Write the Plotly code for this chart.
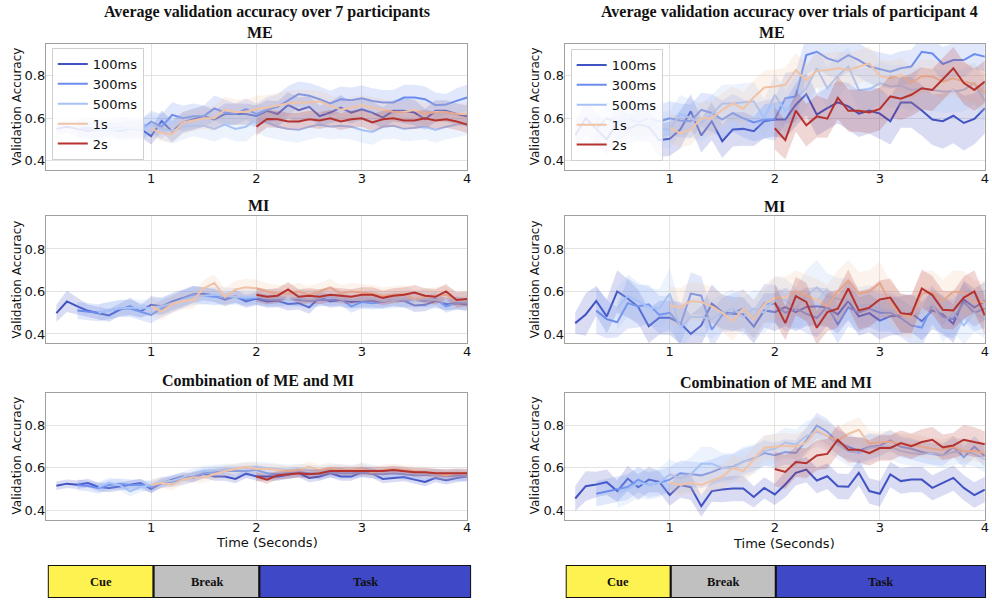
import plotly.graph_objects as go

# Shared time grid (seconds) – each window series ends at 4.0 s
TIME = [0.1, 0.2, 0.3, 0.4, 0.5, 0.6, 0.7, 0.8, 0.9,
        1.0, 1.1, 1.2, 1.3, 1.4, 1.5, 1.6, 1.7, 1.8, 1.9,
        2.0, 2.1, 2.2, 2.3, 2.4, 2.5, 2.6, 2.7, 2.8, 2.9,
        3.0, 3.1, 3.2, 3.3, 3.4, 3.5, 3.6, 3.7, 3.8, 3.9,
        4.0]

WINDOWS = ["100ms", "300ms", "500ms", "1s", "2s"]
COLORS = ["#4152c3", "#6b8cee", "#a7c2f6", "#f0c2a6", "#b5322e"]

# ---------------- Average over 7 participants: ME ----------------
ME_AVG_100 = [0.55, 0.56, 0.55, 0.54, 0.55, 0.55, 0.54, 0.55, 0.55,
              0.516, 0.587, 0.537, 0.58, 0.595, 0.61, 0.595, 0.62, 0.62, 0.62,
              0.61, 0.635, 0.62, 0.663, 0.638, 0.654, 0.61, 0.627, 0.65, 0.627,
              0.643, 0.627, 0.603, 0.635, 0.635, 0.627, 0.595, 0.635, 0.635, 0.62,
              0.61]
ME_AVG_100_SD = [0.03, 0.03, 0.04, 0.04, 0.04, 0.03, 0.04, 0.04, 0.04,
                 0.04, 0.05, 0.05, 0.05, 0.05, 0.05, 0.04, 0.05, 0.05, 0.05,
                 0.05, 0.05, 0.06, 0.06, 0.06, 0.05, 0.05, 0.05, 0.06, 0.05,
                 0.05, 0.05, 0.05, 0.05, 0.06, 0.06, 0.05, 0.05, 0.05, 0.05,
                 0.05]
ME_AVG_300 = [0.55, 0.555, 0.545, 0.55, 0.555, 0.55, 0.545,
              0.584, 0.56, 0.616, 0.60, 0.61, 0.61, 0.647, 0.627, 0.62, 0.643,
              0.62, 0.64, 0.654, 0.682, 0.714, 0.706, 0.69, 0.67, 0.69, 0.685,
              0.695, 0.682, 0.674, 0.674, 0.698, 0.698, 0.69, 0.662, 0.665, 0.682,
              0.698]
ME_AVG_300_SD = [0.04, 0.05, 0.05, 0.04, 0.05, 0.05, 0.05,
                 0.05, 0.06, 0.06, 0.06, 0.06, 0.05, 0.06, 0.06, 0.05, 0.05,
                 0.05, 0.06, 0.06, 0.07, 0.06, 0.06, 0.06, 0.06, 0.06, 0.06,
                 0.06, 0.06, 0.06, 0.06, 0.06, 0.06, 0.06, 0.06, 0.05, 0.06,
                 0.06]
ME_AVG_500 = [0.55, 0.545, 0.55, 0.555, 0.55,
              0.57, 0.55, 0.54, 0.56, 0.565, 0.565, 0.55, 0.57, 0.55, 0.56,
              0.60, 0.58, 0.56, 0.55, 0.545, 0.56, 0.57, 0.56, 0.565, 0.56,
              0.545, 0.535, 0.56, 0.565, 0.55, 0.555, 0.56, 0.545, 0.56, 0.57,
              0.58]
ME_AVG_500_SD = [0.05, 0.05, 0.06, 0.05, 0.05,
                 0.05, 0.05, 0.06, 0.06, 0.05, 0.06, 0.06, 0.06, 0.06, 0.07,
                 0.07, 0.07, 0.06, 0.06, 0.06, 0.06, 0.06, 0.06, 0.06, 0.06,
                 0.06, 0.06, 0.06, 0.06, 0.06, 0.06, 0.06, 0.06, 0.06, 0.06,
                 0.06]
ME_AVG_1S = [0.55, 0.53, 0.525, 0.58, 0.59, 0.60, 0.60, 0.64, 0.63, 0.63,
             0.645, 0.65, 0.66, 0.67, 0.675, 0.675, 0.68, 0.66, 0.64, 0.65,
             0.66, 0.65, 0.64, 0.63, 0.63, 0.64, 0.62, 0.63, 0.63, 0.62,
             0.62]
ME_AVG_1S_SD = [0.04, 0.04, 0.04, 0.05, 0.05, 0.05, 0.06, 0.06, 0.06, 0.06,
                0.06, 0.06, 0.06, 0.06, 0.06, 0.06, 0.05, 0.05, 0.05, 0.05,
                0.05, 0.05, 0.05, 0.05, 0.05, 0.05, 0.05, 0.05, 0.05, 0.05,
                0.05]
ME_AVG_2S = [0.56, 0.597, 0.595, 0.585, 0.585, 0.595, 0.59, 0.60, 0.585, 0.595,
             0.60, 0.58, 0.595, 0.60, 0.59, 0.59, 0.60, 0.59, 0.595, 0.585,
             0.57]
ME_AVG_2S_SD = [0.04, 0.04, 0.04, 0.04, 0.04, 0.04, 0.04, 0.04, 0.04, 0.04,
                0.04, 0.04, 0.04, 0.04, 0.04, 0.04, 0.04, 0.04, 0.04, 0.04,
                0.04]

# ---------------- Average over 7 participants: MI ----------------
MI_AVG_100 = [0.498, 0.553, 0.53, 0.509, 0.498, 0.487, 0.514, 0.53, 0.506,
              0.537, 0.53, 0.553, 0.569, 0.587, 0.589, 0.581, 0.561, 0.577, 0.553,
              0.566, 0.553, 0.556, 0.541, 0.545, 0.525, 0.572, 0.553, 0.561, 0.55,
              0.556, 0.556, 0.553, 0.561, 0.556, 0.534, 0.537, 0.556, 0.541, 0.545,
              0.537]
MI_AVG_100_SD = [0.04, 0.05, 0.04, 0.03, 0.03, 0.03, 0.03, 0.04, 0.03,
                 0.04, 0.04, 0.04, 0.04, 0.04, 0.03, 0.03, 0.03, 0.03, 0.03,
                 0.03, 0.03, 0.03, 0.03, 0.03, 0.03, 0.03, 0.03, 0.03, 0.03,
                 0.03, 0.03, 0.03, 0.03, 0.03, 0.03, 0.03, 0.03, 0.03, 0.03,
                 0.03]
MI_AVG_300 = [0.51, 0.505, 0.50, 0.51, 0.52, 0.52, 0.505,
              0.49, 0.52, 0.54, 0.565, 0.585, 0.58, 0.575, 0.57, 0.575, 0.565,
              0.57, 0.56, 0.56, 0.565, 0.56, 0.555, 0.56, 0.56, 0.565, 0.53,
              0.55, 0.545, 0.55, 0.56, 0.555, 0.56, 0.555, 0.565, 0.53, 0.545,
              0.545]
MI_AVG_300_SD = [0.04, 0.04, 0.04, 0.04, 0.04, 0.04, 0.04,
                 0.04, 0.04, 0.04, 0.04, 0.04, 0.04, 0.04, 0.03, 0.03, 0.03,
                 0.03, 0.03, 0.03, 0.03, 0.03, 0.03, 0.03, 0.03, 0.03, 0.03,
                 0.03, 0.03, 0.03, 0.03, 0.03, 0.03, 0.03, 0.03, 0.03, 0.03,
                 0.03]
MI_AVG_500 = [0.50, 0.51, 0.52, 0.525, 0.52,
              0.525, 0.53, 0.545, 0.56, 0.575, 0.58, 0.585, 0.58, 0.575, 0.57,
              0.575, 0.57, 0.57, 0.565, 0.57, 0.565, 0.57, 0.575, 0.565, 0.56,
              0.56, 0.565, 0.555, 0.56, 0.565, 0.56, 0.565, 0.56, 0.555, 0.56,
              0.555]
MI_AVG_500_SD = [0.04, 0.04, 0.04, 0.04, 0.04,
                 0.04, 0.04, 0.04, 0.04, 0.04, 0.04, 0.04, 0.04, 0.04, 0.04,
                 0.04, 0.04, 0.04, 0.04, 0.04, 0.04, 0.04, 0.04, 0.04, 0.04,
                 0.04, 0.04, 0.04, 0.04, 0.04, 0.04, 0.04, 0.04, 0.04, 0.04,
                 0.04]
MI_AVG_1S = [0.53, 0.505, 0.54, 0.555, 0.56, 0.615, 0.64, 0.575, 0.61, 0.62,
             0.615, 0.60, 0.59, 0.59, 0.60, 0.585, 0.60, 0.62, 0.59, 0.60,
             0.595, 0.59, 0.58, 0.585, 0.59, 0.565, 0.575, 0.58, 0.585, 0.56,
             0.565]
MI_AVG_1S_SD = [0.04, 0.04, 0.04, 0.04, 0.04, 0.04, 0.04, 0.04, 0.04, 0.04,
                0.04, 0.04, 0.04, 0.04, 0.04, 0.04, 0.04, 0.04, 0.04, 0.04,
                0.04, 0.04, 0.04, 0.04, 0.04, 0.04, 0.04, 0.04, 0.04, 0.04,
                0.04]
MI_AVG_2S = [0.585, 0.575, 0.58, 0.61, 0.575, 0.58, 0.575, 0.585, 0.58, 0.575,
             0.585, 0.585, 0.57, 0.58, 0.585, 0.595, 0.58, 0.575, 0.60, 0.56,
             0.565]
MI_AVG_2S_SD = [0.035, 0.035, 0.035, 0.035, 0.035, 0.035, 0.035, 0.035, 0.035, 0.035,
                0.035, 0.035, 0.035, 0.035, 0.035, 0.035, 0.035, 0.035, 0.035, 0.035,
                0.035]

# ---------------- Average over 7 participants: ME + MI ----------------
CB_AVG_100 = [0.516, 0.526, 0.521, 0.529, 0.51, 0.505, 0.513, 0.521, 0.529,
              0.50, 0.529, 0.545, 0.56, 0.553, 0.573, 0.56, 0.56, 0.548, 0.573,
              0.56, 0.56, 0.56, 0.568, 0.576, 0.553, 0.56, 0.576, 0.56, 0.56,
              0.579, 0.573, 0.548, 0.553, 0.557, 0.545, 0.534, 0.553, 0.542, 0.553,
              0.56]
CB_AVG_100_SD = [0.02, 0.02, 0.02, 0.02, 0.02, 0.02, 0.02, 0.02, 0.02,
                 0.02, 0.02, 0.02, 0.02, 0.02, 0.02, 0.02, 0.02, 0.02, 0.02,
                 0.02, 0.02, 0.02, 0.02, 0.02, 0.02, 0.02, 0.02, 0.02, 0.02,
                 0.02, 0.02, 0.02, 0.02, 0.02, 0.02, 0.02, 0.02, 0.02, 0.02,
                 0.02]
CB_AVG_300 = [0.52, 0.515, 0.505, 0.52, 0.525, 0.52, 0.52,
              0.51, 0.53, 0.535, 0.545, 0.56, 0.575, 0.58, 0.585, 0.585, 0.585,
              0.59, 0.575, 0.57, 0.575, 0.58, 0.575, 0.57, 0.58, 0.575, 0.575,
              0.58, 0.575, 0.57, 0.575, 0.57, 0.565, 0.565, 0.57, 0.56, 0.565,
              0.56]
CB_AVG_300_SD = [0.025, 0.025, 0.025, 0.025, 0.025, 0.025, 0.025,
                 0.025, 0.025, 0.025, 0.025, 0.025, 0.025, 0.025, 0.025, 0.025, 0.025,
                 0.025, 0.025, 0.025, 0.025, 0.025, 0.025, 0.025, 0.025, 0.025, 0.025,
                 0.025, 0.025, 0.025, 0.025, 0.025, 0.025, 0.025, 0.025, 0.025, 0.025,
                 0.025]
CB_AVG_500 = [0.51, 0.53, 0.52, 0.49, 0.51,
              0.52, 0.535, 0.54, 0.555, 0.575, 0.585, 0.59, 0.595, 0.595, 0.60,
              0.605, 0.60, 0.595, 0.59, 0.595, 0.59, 0.585, 0.59, 0.595, 0.585,
              0.60, 0.59, 0.58, 0.585, 0.58, 0.575, 0.575, 0.57, 0.57, 0.575,
              0.57]
CB_AVG_500_SD = [0.025, 0.025, 0.025, 0.025, 0.025,
                 0.025, 0.025, 0.025, 0.025, 0.025, 0.025, 0.025, 0.025, 0.025, 0.025,
                 0.025, 0.025, 0.025, 0.025, 0.025, 0.025, 0.025, 0.025, 0.025, 0.025,
                 0.025, 0.025, 0.025, 0.025, 0.025, 0.025, 0.025, 0.025, 0.025, 0.025,
                 0.025]
CB_AVG_1S = [0.52, 0.53, 0.52, 0.545, 0.555, 0.555, 0.57, 0.585, 0.595, 0.605,
             0.595, 0.595, 0.59, 0.585, 0.59, 0.605, 0.59, 0.60, 0.59, 0.59,
             0.595, 0.58, 0.59, 0.595, 0.59, 0.585, 0.58, 0.575, 0.565, 0.575,
             0.575]
CB_AVG_1S_SD = [0.025, 0.025, 0.025, 0.025, 0.025, 0.025, 0.025, 0.025, 0.025, 0.025,
                0.025, 0.025, 0.025, 0.025, 0.025, 0.025, 0.025, 0.025, 0.025, 0.025,
                0.025, 0.025, 0.025, 0.025, 0.025, 0.025, 0.025, 0.025, 0.025, 0.025,
                0.025]
CB_AVG_2S = [0.56, 0.545, 0.565, 0.57, 0.575, 0.57, 0.575, 0.585, 0.585, 0.585,
             0.585, 0.585, 0.585, 0.59, 0.585, 0.58, 0.58, 0.575, 0.575, 0.575,
             0.575]
CB_AVG_2S_SD = [0.02, 0.02, 0.02, 0.02, 0.02, 0.02, 0.02, 0.02, 0.02, 0.02,
                0.02, 0.02, 0.02, 0.02, 0.02, 0.02, 0.02, 0.02, 0.02, 0.02,
                0.02]

# ---------------- Participant 4 trials: ME ----------------
P4_ME_100 = [0.52, 0.60, 0.55, 0.50, 0.58, 0.55, 0.57, 0.56, 0.497,
             0.503, 0.547, 0.633, 0.519, 0.586, 0.492, 0.547, 0.55, 0.539, 0.586,
             0.594, 0.594, 0.664, 0.714, 0.617, 0.648, 0.675, 0.656, 0.622, 0.637,
             0.622, 0.586, 0.675, 0.675, 0.637, 0.594, 0.586, 0.612, 0.578, 0.597,
             0.648]
P4_ME_100_SD = [0.06, 0.08, 0.08, 0.07, 0.08, 0.07, 0.08, 0.07, 0.08,
                0.08, 0.09, 0.08, 0.08, 0.09, 0.08, 0.08, 0.08, 0.07, 0.08,
                0.08, 0.09, 0.10, 0.10, 0.10, 0.10, 0.10, 0.11, 0.11, 0.11,
                0.12, 0.11, 0.12, 0.12, 0.12, 0.12, 0.13, 0.13, 0.13, 0.12,
                0.12]
P4_ME_300 = [0.55, 0.60, 0.58, 0.60, 0.58, 0.60, 0.585,
             0.60, 0.59, 0.586, 0.64, 0.625, 0.594, 0.625, 0.60, 0.58, 0.594,
             0.594, 0.695, 0.703, 0.898, 0.914, 0.883, 0.867, 0.898, 0.875, 0.844,
             0.831, 0.82, 0.836, 0.844, 0.914, 0.906, 0.856, 0.875, 0.875, 0.903,
             0.891]
P4_ME_300_SD = [0.07, 0.08, 0.08, 0.08, 0.08, 0.08, 0.08,
                0.08, 0.08, 0.08, 0.08, 0.09, 0.09, 0.09, 0.09, 0.09, 0.09,
                0.10, 0.12, 0.12, 0.09, 0.08, 0.08, 0.08, 0.08, 0.08, 0.08,
                0.08, 0.08, 0.08, 0.08, 0.07, 0.07, 0.08, 0.08, 0.08, 0.07,
                0.07]
P4_ME_500 = [0.57, 0.60, 0.62, 0.60, 0.55,
             0.547, 0.62, 0.60, 0.58, 0.62, 0.67, 0.67, 0.675, 0.68, 0.60,
             0.711, 0.633, 0.695, 0.742, 0.836, 0.742, 0.80, 0.844, 0.734, 0.737,
             0.766, 0.75, 0.753, 0.734, 0.742, 0.734, 0.727, 0.727, 0.734, 0.766,
             0.68]
P4_ME_500_SD = [0.08, 0.09, 0.09, 0.08, 0.08,
                0.09, 0.09, 0.09, 0.09, 0.09, 0.09, 0.09, 0.09, 0.09, 0.09,
                0.10, 0.10, 0.10, 0.10, 0.09, 0.10, 0.10, 0.09, 0.10, 0.10,
                0.10, 0.10, 0.10, 0.10, 0.10, 0.10, 0.10, 0.10, 0.10, 0.10,
                0.10]
P4_ME_1S = [0.555, 0.53, 0.545, 0.60, 0.60, 0.64, 0.67, 0.645, 0.70, 0.745,
            0.75, 0.758, 0.828, 0.778, 0.825, 0.828, 0.836, 0.828, 0.844, 0.859,
            0.80, 0.789, 0.805, 0.766, 0.80, 0.797, 0.773, 0.789, 0.773, 0.762,
            0.722]
P4_ME_1S_SD = [0.07, 0.07, 0.07, 0.08, 0.08, 0.08, 0.08, 0.08, 0.08, 0.08,
               0.08, 0.08, 0.08, 0.08, 0.08, 0.08, 0.08, 0.08, 0.08, 0.08,
               0.08, 0.08, 0.08, 0.08, 0.08, 0.08, 0.08, 0.08, 0.09, 0.09,
               0.09]
P4_ME_2S = [0.553, 0.497, 0.636, 0.567, 0.609, 0.598, 0.697, 0.636, 0.636, 0.628,
            0.644, 0.703, 0.692, 0.711, 0.742, 0.734, 0.784, 0.836, 0.766, 0.734,
            0.773]
P4_ME_2S_SD = [0.10, 0.09, 0.10, 0.10, 0.10, 0.09, 0.10, 0.10, 0.10, 0.10,
               0.10, 0.10, 0.10, 0.10, 0.10, 0.10, 0.10, 0.10, 0.10, 0.10,
               0.10]

# ---------------- Participant 4 trials: MI ----------------
P4_MI_100 = [0.451, 0.492, 0.556, 0.483, 0.60, 0.567, 0.527, 0.437, 0.476,
             0.476, 0.451, 0.40, 0.44, 0.543, 0.503, 0.495, 0.492, 0.435, 0.511,
             0.503, 0.527, 0.503, 0.527, 0.53, 0.524, 0.492, 0.556, 0.483, 0.498,
             0.463, 0.483, 0.487, 0.498, 0.46, 0.511, 0.492, 0.448, 0.562, 0.524,
             0.556]
P4_MI_100_SD = [0.05, 0.10, 0.07, 0.08, 0.10, 0.09, 0.08, 0.08, 0.08,
                0.08, 0.10, 0.09, 0.09, 0.09, 0.08, 0.08, 0.08, 0.08, 0.08,
                0.09, 0.09, 0.09, 0.09, 0.09, 0.09, 0.09, 0.09, 0.09, 0.09,
                0.09, 0.09, 0.09, 0.09, 0.09, 0.09, 0.09, 0.09, 0.09, 0.09,
                0.09]
P4_MI_300 = [0.51, 0.47, 0.455, 0.545, 0.53, 0.54, 0.49,
             0.50, 0.44, 0.59, 0.58, 0.42, 0.49, 0.50, 0.52, 0.47, 0.545,
             0.54, 0.50, 0.52, 0.495, 0.475, 0.53, 0.445, 0.525, 0.50, 0.52,
             0.50, 0.50, 0.475, 0.44, 0.43, 0.535, 0.48, 0.47, 0.55, 0.50,
             0.52]
P4_MI_300_SD = [0.11, 0.09, 0.07, 0.12, 0.10, 0.09, 0.09,
                0.08, 0.09, 0.10, 0.09, 0.09, 0.08, 0.09, 0.09, 0.09, 0.09,
                0.09, 0.09, 0.09, 0.09, 0.09, 0.09, 0.09, 0.09, 0.09, 0.09,
                0.09, 0.09, 0.09, 0.09, 0.09, 0.09, 0.09, 0.09, 0.09, 0.09,
                0.09]
P4_MI_500 = [0.52, 0.58, 0.555, 0.525, 0.52,
             0.59, 0.43, 0.48, 0.48, 0.47, 0.50, 0.52, 0.48, 0.52, 0.50,
             0.57, 0.56, 0.52, 0.58, 0.62, 0.575, 0.565, 0.56, 0.53, 0.54,
             0.515, 0.51, 0.50, 0.49, 0.50, 0.54, 0.45, 0.50, 0.44, 0.50,
             0.47]
P4_MI_500_SD = [0.10, 0.10, 0.09, 0.09, 0.09,
                0.12, 0.10, 0.09, 0.09, 0.09, 0.09, 0.09, 0.09, 0.09, 0.10,
                0.10, 0.10, 0.10, 0.12, 0.13, 0.11, 0.10, 0.10, 0.09, 0.09,
                0.09, 0.09, 0.09, 0.09, 0.09, 0.09, 0.09, 0.09, 0.09, 0.09,
                0.09]
P4_MI_1S = [0.535, 0.525, 0.555, 0.55, 0.53, 0.50, 0.46, 0.52, 0.47, 0.54,
            0.57, 0.57, 0.60, 0.58, 0.56, 0.53, 0.60, 0.65, 0.59, 0.60,
            0.64, 0.545, 0.49, 0.48, 0.59, 0.60, 0.555, 0.60, 0.595, 0.55,
            0.55]
P4_MI_1S_SD = [0.09, 0.09, 0.09, 0.09, 0.09, 0.09, 0.09, 0.09, 0.09, 0.09,
               0.10, 0.10, 0.10, 0.10, 0.10, 0.10, 0.10, 0.10, 0.10, 0.10,
               0.10, 0.10, 0.10, 0.10, 0.10, 0.10, 0.10, 0.10, 0.10, 0.10,
               0.10]
P4_MI_2S = [0.548, 0.451, 0.578, 0.551, 0.429, 0.503, 0.519, 0.614, 0.511, 0.524,
            0.562, 0.571, 0.498, 0.492, 0.614, 0.583, 0.514, 0.511, 0.571, 0.60,
            0.487]
P4_MI_2S_SD = [0.09, 0.08, 0.09, 0.09, 0.08, 0.09, 0.09, 0.09, 0.09, 0.09,
               0.09, 0.09, 0.09, 0.09, 0.09, 0.09, 0.09, 0.09, 0.10, 0.10,
               0.09]

# ---------------- Participant 4 trials: ME + MI ----------------
P4_CB_100 = [0.456, 0.514, 0.522, 0.533, 0.491, 0.55, 0.509, 0.545, 0.534,
             0.472, 0.519, 0.509, 0.42, 0.491, 0.498, 0.503, 0.503, 0.463, 0.506,
             0.475, 0.522, 0.577, 0.592, 0.541, 0.561, 0.514, 0.511, 0.577, 0.491,
             0.478, 0.569, 0.538, 0.545, 0.545, 0.506, 0.53, 0.553, 0.506, 0.472,
             0.498]
P4_CB_100_SD = [0.06, 0.07, 0.06, 0.06, 0.05, 0.06, 0.06, 0.06, 0.05,
                0.05, 0.06, 0.06, 0.05, 0.05, 0.06, 0.06, 0.06, 0.05, 0.05,
                0.05, 0.06, 0.06, 0.06, 0.06, 0.06, 0.06, 0.06, 0.06, 0.06,
                0.06, 0.06, 0.06, 0.06, 0.06, 0.06, 0.06, 0.06, 0.06, 0.06,
                0.06]
P4_CB_300 = [0.478, 0.49, 0.50, 0.51, 0.545, 0.52, 0.53,
             0.545, 0.575, 0.57, 0.565, 0.58, 0.60, 0.605, 0.63, 0.645, 0.67,
             0.66, 0.675, 0.67, 0.73, 0.80, 0.77, 0.72, 0.70, 0.68, 0.70,
             0.705, 0.73, 0.70, 0.69, 0.675, 0.665, 0.66, 0.70, 0.65, 0.70,
             0.655]
P4_CB_300_SD = [0.06, 0.06, 0.06, 0.06, 0.06, 0.06, 0.06,
                0.06, 0.06, 0.06, 0.06, 0.06, 0.06, 0.06, 0.06, 0.06, 0.06,
                0.06, 0.06, 0.06, 0.06, 0.06, 0.06, 0.06, 0.06, 0.06, 0.06,
                0.05, 0.05, 0.05, 0.05, 0.05, 0.05, 0.05, 0.05, 0.05, 0.05,
                0.05]
P4_CB_500 = [0.48, 0.50, 0.53, 0.52, 0.53,
             0.57, 0.55, 0.57, 0.62, 0.62, 0.60, 0.60, 0.63, 0.64, 0.68,
             0.69, 0.72, 0.71, 0.75, 0.77, 0.75, 0.71, 0.68, 0.67, 0.695,
             0.70, 0.70, 0.68, 0.67, 0.665, 0.67, 0.66, 0.675, 0.68, 0.665,
             0.64]
P4_CB_500_SD = [0.07, 0.07, 0.07, 0.07, 0.07,
                0.07, 0.07, 0.08, 0.08, 0.08, 0.07, 0.07, 0.07, 0.07, 0.07,
                0.07, 0.07, 0.07, 0.07, 0.07, 0.07, 0.07, 0.07, 0.07, 0.07,
                0.06, 0.06, 0.06, 0.06, 0.06, 0.06, 0.06, 0.06, 0.06, 0.06,
                0.06]
P4_CB_1S = [0.53, 0.52, 0.53, 0.52, 0.54, 0.56, 0.60, 0.585, 0.64, 0.695,
            0.70, 0.705, 0.70, 0.72, 0.78, 0.75, 0.73, 0.76, 0.78, 0.715,
            0.72, 0.725, 0.71, 0.71, 0.70, 0.69, 0.685, 0.70, 0.68, 0.68,
            0.67]
P4_CB_1S_SD = [0.05, 0.05, 0.05, 0.05, 0.05, 0.06, 0.06, 0.06, 0.06, 0.06,
               0.06, 0.06, 0.06, 0.06, 0.06, 0.06, 0.06, 0.06, 0.06, 0.06,
               0.05, 0.05, 0.05, 0.05, 0.05, 0.05, 0.05, 0.05, 0.05, 0.05,
               0.05]
P4_CB_2S = [0.595, 0.581, 0.628, 0.622, 0.659, 0.666, 0.733, 0.686, 0.686, 0.67,
            0.694, 0.694, 0.717, 0.702, 0.722, 0.733, 0.697, 0.706, 0.733, 0.722,
            0.712]
P4_CB_2S_SD = [0.08, 0.08, 0.07, 0.07, 0.07, 0.07, 0.07, 0.06, 0.06, 0.06,
               0.06, 0.06, 0.06, 0.06, 0.06, 0.06, 0.06, 0.06, 0.07, 0.07,
               0.06]

# Phase bar below each column
PHASES = ["Cue", "Break", "Task"]
PHASE_EDGES = [0, 1, 2, 4]
PHASE_COLORS = ["#fef250", "#c0c0c0", "#3f48c7"]

# panel -> (axis suffix, [(mean, sd) per window], legend id)
PANELS = [
    ("", [(ME_AVG_100, ME_AVG_100_SD), (ME_AVG_300, ME_AVG_300_SD), (ME_AVG_500, ME_AVG_500_SD),
          (ME_AVG_1S, ME_AVG_1S_SD), (ME_AVG_2S, ME_AVG_2S_SD)], "legend"),
    ("2", [(P4_ME_100, P4_ME_100_SD), (P4_ME_300, P4_ME_300_SD), (P4_ME_500, P4_ME_500_SD),
           (P4_ME_1S, P4_ME_1S_SD), (P4_ME_2S, P4_ME_2S_SD)], "legend2"),
    ("3", [(MI_AVG_100, MI_AVG_100_SD), (MI_AVG_300, MI_AVG_300_SD), (MI_AVG_500, MI_AVG_500_SD),
           (MI_AVG_1S, MI_AVG_1S_SD), (MI_AVG_2S, MI_AVG_2S_SD)], None),
    ("4", [(P4_MI_100, P4_MI_100_SD), (P4_MI_300, P4_MI_300_SD), (P4_MI_500, P4_MI_500_SD),
           (P4_MI_1S, P4_MI_1S_SD), (P4_MI_2S, P4_MI_2S_SD)], None),
    ("5", [(CB_AVG_100, CB_AVG_100_SD), (CB_AVG_300, CB_AVG_300_SD), (CB_AVG_500, CB_AVG_500_SD),
           (CB_AVG_1S, CB_AVG_1S_SD), (CB_AVG_2S, CB_AVG_2S_SD)], None),
    ("6", [(P4_CB_100, P4_CB_100_SD), (P4_CB_300, P4_CB_300_SD), (P4_CB_500, P4_CB_500_SD),
           (P4_CB_1S, P4_CB_1S_SD), (P4_CB_2S, P4_CB_2S_SD)], None),
]


def rgba(hex_color, alpha):
    h = hex_color.lstrip("#")
    r, g, b = int(h[0:2], 16), int(h[2:4], 16), int(h[4:6], 16)
    return f"rgba({r},{g},{b},{alpha})"


fig = go.Figure()

for suffix, series, legend_name in PANELS:
    xa, ya = "x" + suffix, "y" + suffix
    for name, color, (mean, sd) in zip(WINDOWS, COLORS, series):
        xs = TIME[-len(mean):]
        upper = [m + s for m, s in zip(mean, sd)]
        lower = [m - s for m, s in zip(mean, sd)]
        fig.add_trace(go.Scatter(
            x=xs + xs[::-1], y=upper + lower[::-1], fill="toself",
            fillcolor=rgba(color, 0.2), line=dict(width=0), mode="lines",
            hoverinfo="skip", showlegend=False, xaxis=xa, yaxis=ya))
        fig.add_trace(go.Scatter(
            x=xs, y=mean, mode="lines", name=name,
            line=dict(color=color, width=2),
            showlegend=legend_name is not None,
            legend=legend_name if legend_name else "legend",
            xaxis=xa, yaxis=ya))

LEFT_DOM = [0.0464, 0.4728]
RIGHT_DOM = [0.5716, 0.9968]
ROW_DOMS = [[0.7167, 0.9275], [0.4278, 0.6392], [0.1338, 0.3450]]

tick_font = dict(family="DejaVu Sans", size=13, color="#111111")
axis_common = dict(showgrid=True, gridcolor="#e3e3e3", gridwidth=1,
                   showline=True, mirror=True, linecolor="#a0a0a0", linewidth=1,
                   zeroline=False, ticks="", ticklen=0, tickfont=tick_font)

layout_axes = {}
for i, suffix in enumerate(["", "2", "3", "4", "5", "6"]):
    col = i % 2
    row = i // 2
    layout_axes["xaxis" + suffix] = dict(
        axis_common, domain=LEFT_DOM if col == 0 else RIGHT_DOM, range=[0, 4],
        tickvals=[1, 2, 3, 4], anchor="y" + suffix)
    layout_axes["yaxis" + suffix] = dict(
        axis_common, domain=ROW_DOMS[row], range=[0.356, 0.953],
        tickvals=[0.4, 0.6, 0.8], ticktext=["0.4", "0.6", "0.8"], anchor="x" + suffix)

# hidden axes that carry the phase bars (seconds on x)
layout_axes["xaxis7"] = dict(domain=[48 / 992, 473 / 992], range=[0, 4], visible=False, anchor="y7")
layout_axes["yaxis7"] = dict(domain=[2 / 600, 35 / 600], range=[0, 1], visible=False, anchor="x7")
layout_axes["xaxis8"] = dict(domain=[568 / 992, 990 / 992], range=[0, 4], visible=False, anchor="y8")
layout_axes["yaxis8"] = dict(domain=[2 / 600, 35 / 600], range=[0, 1], visible=False, anchor="x8")

shapes = []
annotations = []
for xr, yr in (("x7", "y7"), ("x8", "y8")):
    for label, x0, x1, fc in zip(PHASES, PHASE_EDGES[:-1], PHASE_EDGES[1:], PHASE_COLORS):
        shapes.append(dict(type="rect", xref=xr, yref=yr, x0=x0, x1=x1, y0=0, y1=1,
                           fillcolor=fc, line=dict(color="#111111", width=2), layer="above"))
        annotations.append(dict(xref=xr, yref=yr, x=(x0 + x1) / 2, y=0.5, text=f"<b>{label}</b>",
                                showarrow=False,
                                font=dict(family="Liberation Serif", size=12.5, color="#111111")))

serif = dict(family="Liberation Serif", size=16, color="#111111")
sans = dict(family="DejaVu Sans", size=13, color="#111111")


def note(x_px, y_px, text, font, angle=0):
    annotations.append(dict(xref="paper", yref="paper", x=x_px / 992, y=1 - y_px / 600,
                            text=text, showarrow=False, font=font, textangle=angle,
                            xanchor="center", yanchor="middle"))


note(268, 12, "<b>Average validation accuracy over 7 participants</b>", serif)
note(793, 12, "<b>Average validation accuracy over trials of participant 4</b>", serif)
note(261, 32, "<b>ME</b>", serif)
note(775, 32, "<b>ME</b>", serif)
note(260, 205, "<b>MI</b>", serif)
note(778, 207, "<b>MI</b>", serif)
note(259, 380, "<b>Combination of ME and MI</b>", serif)
note(779, 382, "<b>Combination of ME and MI</b>", serif)
note(268, 542, "Time (Seconds)", sans)
note(787, 543, "Time (Seconds)", sans)

ylab_font = dict(family="DejaVu Sans", size=12, color="#111111")
for x_px in (17, 537):
    for y_px in (106.5, 279.5, 455.5):
        note(x_px, y_px, "Validation Accuracy", ylab_font, angle=-90)

legend_style = dict(bgcolor="rgba(255,255,255,0.85)", bordercolor="#d0d0d0", borderwidth=1,
                    font=dict(family="DejaVu Sans", size=13, color="#111111"),
                    xanchor="left", yanchor="top", itemwidth=30, tracegroupgap=0)

fig.update_layout(
    width=992, height=600,
    margin=dict(l=0, r=0, t=0, b=0),
    paper_bgcolor="white", plot_bgcolor="white",
    showlegend=True,
    legend=dict(legend_style, x=52 / 992, y=1 - 48 / 600),
    legend2=dict(legend_style, x=573 / 992, y=1 - 49 / 600),
    shapes=shapes, annotations=annotations,
    **layout_axes,
)

# pull tick labels a little closer to the frame where supported
try:
    fig.update_xaxes(ticklabelstandoff=-4, selector=dict(visible=None))
    fig.update_yaxes(ticklabelstandoff=-3, selector=dict(visible=None))
except (ValueError, TypeError):
    pass

fig.write_html("out.html")
